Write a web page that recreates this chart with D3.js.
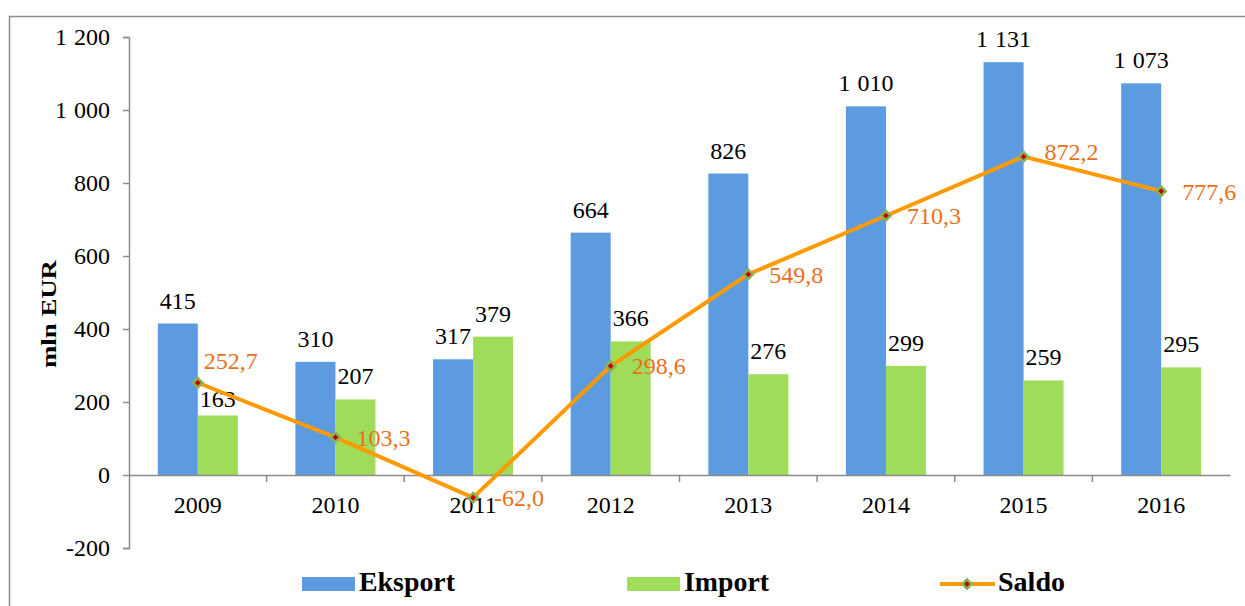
<!DOCTYPE html>
<html><head><meta charset="utf-8">
<script src="https://cdn.jsdelivr.net/npm/d3@7"></script>
<style>body{margin:0;background:#fff}svg{display:block}</style>
</head><body>
<script>
const categories = ["2009","2010","2011","2012","2013","2014","2015","2016"];
const eksport = [415,310,317,664,826,1010,1131,1073];
const importV = [163,207,379,366,276,299,259,295];
const saldo = [252.7,103.3,-62.0,298.6,549.8,710.3,872.2,777.6];
const yTicks = [-200,0,200,400,600,800,1000,1200];

const W=1245,H=606;
const svg=d3.select("body").append("svg").attr("width",W).attr("height",H);
const serif="'Liberation Serif','Times New Roman',serif";
const FS=24;
// frame
svg.append("rect").attr("x",9.5).attr("y",16.5).attr("width",1260).attr("height",620)
  .attr("fill","none").attr("stroke","#8c8c8c").attr("stroke-width",1.5);

const x0=d3.scaleBand().domain(categories).range([129,1230]);
const y=d3.scaleLinear().domain([-200,1200]).range([548,37]);
const bw=40;
const fmt=v=>d3.format(",")(v).replace(/,/g," ").replace("\u2212","-");
const fmtS=v=>v.toFixed(1).replace(".",",");

// axes
const yAx=svg.append("g").attr("transform","translate(129,0)")
 .call(d3.axisLeft(y).tickValues(yTicks).tickSize(6).tickFormat(fmt));
yAx.select(".domain").attr("stroke","#8c8c8c").attr("stroke-width",1.5);
yAx.selectAll(".tick line").attr("stroke","#8c8c8c").attr("stroke-width",1.5);
yAx.selectAll("text").attr("font-family",serif).attr("font-size",FS).attr("fill","#000").attr("dx",-10)
 .attr("word-spacing",1);

// bars
const g=svg.append("g");
g.selectAll(".e").data(categories).join("rect")
 .attr("x",d=>x0(d)+x0.bandwidth()/2-bw).attr("width",bw)
 .attr("y",(d,i)=>y(eksport[i])).attr("height",(d,i)=>y(0)-y(eksport[i])).attr("fill","#5d9be0");
g.selectAll(".i").data(categories).join("rect")
 .attr("x",d=>x0(d)+x0.bandwidth()/2).attr("width",bw)
 .attr("y",(d,i)=>y(importV[i])).attr("height",(d,i)=>y(0)-y(importV[i])).attr("fill","#9fdc5a");

// x axis line at 0
const xAx=svg.append("g").attr("transform",`translate(0,${y(0)})`)
 .call(d3.axisBottom(x0).tickSize(0).tickPadding(21));
xAx.select(".domain").attr("stroke","#8c8c8c").attr("stroke-width",1.5);
xAx.selectAll("text").attr("font-family",serif).attr("font-size",FS).attr("fill","#000");
svg.append("g").selectAll("line").data(d3.range(1,categories.length)).join("line")
 .attr("x1",i=>x0(categories[i])).attr("x2",i=>x0(categories[i]))
 .attr("y1",y(0)).attr("y2",y(0)+7).attr("stroke","#8c8c8c").attr("stroke-width",1.5);

// bar labels
svg.append("g").selectAll("text").data(categories).join("text")
 .attr("x",d=>x0(d)+x0.bandwidth()/2-bw/2).attr("y",(d,i)=>y(eksport[i])-15)
 .attr("text-anchor","middle").attr("font-family",serif).attr("font-size",FS).attr("word-spacing",1)
 .text((d,i)=>fmt(eksport[i]));
svg.append("g").selectAll("text").data(categories).join("text")
 .attr("x",d=>x0(d)+x0.bandwidth()/2+bw/2)
 .attr("y",(d,i)=>y(importV[i])-(i===0?9:15))
 .attr("text-anchor","middle").attr("font-family",serif).attr("font-size",FS).text((d,i)=>fmt(importV[i]));

// saldo line
const cx=d=>x0(d)+x0.bandwidth()/2;
svg.append("path").datum(categories)
 .attr("d",d3.line().x(cx).y((d,i)=>y(saldo[i])))
 .attr("fill","none").attr("stroke","#ff9a00").attr("stroke-width",4);
svg.append("g").selectAll("path").data(categories).join("path")
 .attr("transform",(d,i)=>`translate(${cx(d)},${y(saldo[i])})`)
 .attr("d",d3.symbol(d3.symbolDiamond2,55)).attr("fill","#c00000").attr("stroke","#8fb050").attr("stroke-width",2.5);
svg.append("g").selectAll("text").data(categories).join("text")
 .attr("x",(d,i)=>cx(d)+(i===0?6:21)).attr("y",(d,i)=>y(saldo[i])+(i===0?-22:(i===6?-5:0))).attr("dy","0.35em")
 .attr("font-family",serif).attr("font-size",FS).attr("fill","#e8701a").text((d,i)=>fmtS(saldo[i]));

// y title
svg.append("text").attr("transform","translate(56,314) rotate(-90)").attr("text-anchor","middle")
 .attr("font-family",serif).attr("font-weight","bold").attr("font-size",21)
 .attr("textLength",108).attr("lengthAdjust","spacingAndGlyphs").text("mln EUR");

// legend
const leg=svg.append("g").attr("font-family",serif).attr("font-weight","bold").attr("font-size",27);
leg.append("rect").attr("x",302).attr("y",577).attr("width",53).attr("height",14).attr("fill","#5d9be0");
leg.append("text").attr("x",359).attr("y",591).attr("textLength",96).attr("lengthAdjust","spacingAndGlyphs").text("Eksport");
leg.append("rect").attr("x",627).attr("y",577).attr("width",53).attr("height",14).attr("fill","#9fdc5a");
leg.append("text").attr("x",684).attr("y",591).attr("textLength",85).attr("lengthAdjust","spacingAndGlyphs").text("Import");
leg.append("line").attr("x1",940).attr("x2",995).attr("y1",584).attr("y2",584).attr("stroke","#ff9a00").attr("stroke-width",4);
leg.append("path").attr("transform","translate(967,584)").attr("d",d3.symbol(d3.symbolDiamond2,55))
 .attr("fill","#c00000").attr("stroke","#8fb050").attr("stroke-width",2.5);
leg.append("text").attr("x",998).attr("y",591).attr("textLength",67).attr("lengthAdjust","spacingAndGlyphs").text("Saldo");
</script>
</body></html>
